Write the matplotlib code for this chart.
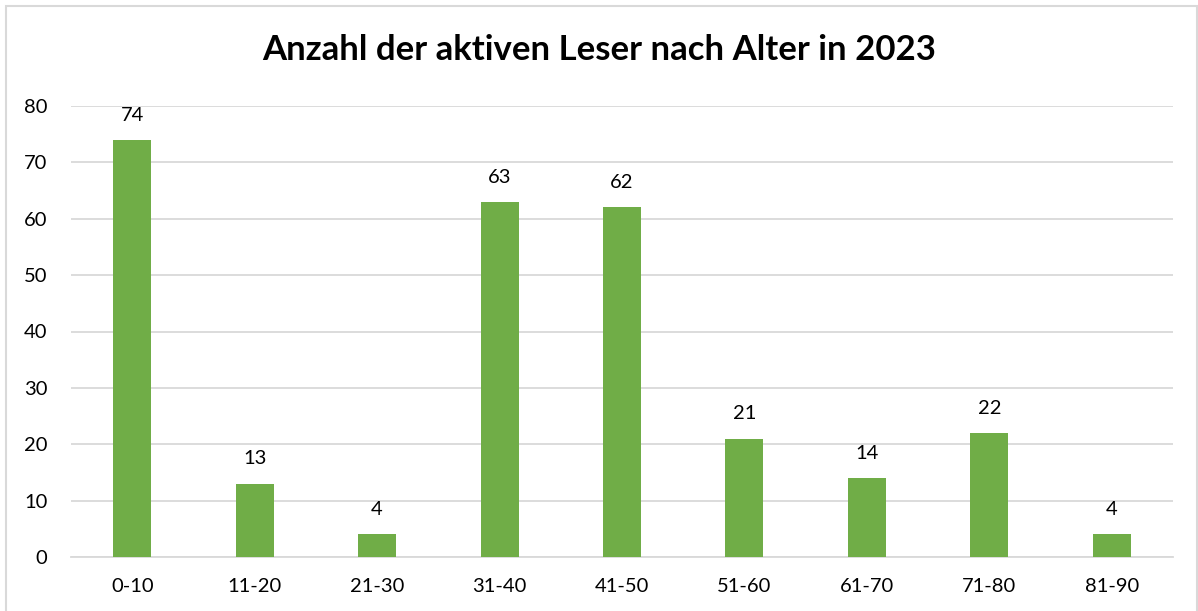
import matplotlib.pyplot as plt
from matplotlib.patches import Rectangle

categories = ['0-10', '11-20', '21-30', '31-40', '41-50', '51-60', '61-70', '71-80', '81-90']
readers = [74, 13, 4, 63, 62, 21, 14, 22, 4]
yticks = [0, 10, 20, 30, 40, 50, 60, 70, 80]

plt.rcParams['font.family'] = ['Lato', 'DejaVu Sans']

W, H = 1198, 611
fig = plt.figure(figsize=(W / 100, H / 100), dpi=100)
# plot area in pixels: x 71..1173, y 106..557
ax = fig.add_axes([71 / W, 1 - 557 / H, (1173 - 71) / W, (557 - 106) / H])

# outer chart frame
fig.patches.append(Rectangle((6 / W, -0.01), (1197 - 6) / W, 1 - 6 / H + 0.01,
                             transform=fig.transFigure, fill=False,
                             edgecolor='#d9d9d9', linewidth=1.5))

x = range(len(categories))
bars = ax.bar(x, readers, width=0.31, color='#70ad47', zorder=3)
for b, v in zip(bars, readers):
    ax.text(b.get_x() + b.get_width() / 2, v + 4.4, str(v), ha='center', va='center',
            fontsize=14.5, color='black')

ax.set_xlim(-0.5, len(categories) - 0.5)
ax.set_ylim(0, 80)
ax.set_yticks(yticks)
ax.set_xticks(list(x))
ax.set_xticklabels(categories)
ax.tick_params(axis='both', length=0, labelsize=14.5, colors='black')
ax.tick_params(axis='y', pad=17)
ax.tick_params(axis='x', pad=15)
ax.grid(axis='y', color='#d9d9d9', linewidth=1.3, zorder=0)
for s in ['top', 'right', 'left']:
    ax.spines[s].set_visible(False)
ax.spines['bottom'].set_color('#d9d9d9')
ax.spines['bottom'].set_linewidth(1.3)

fig.text(0.5, 1 - 50 / H, 'Anzahl der aktiven Leser nach Alter in 2023', ha='center', va='center',
         fontsize=25, fontweight='bold')

fig.savefig('out.png', dpi=100)
